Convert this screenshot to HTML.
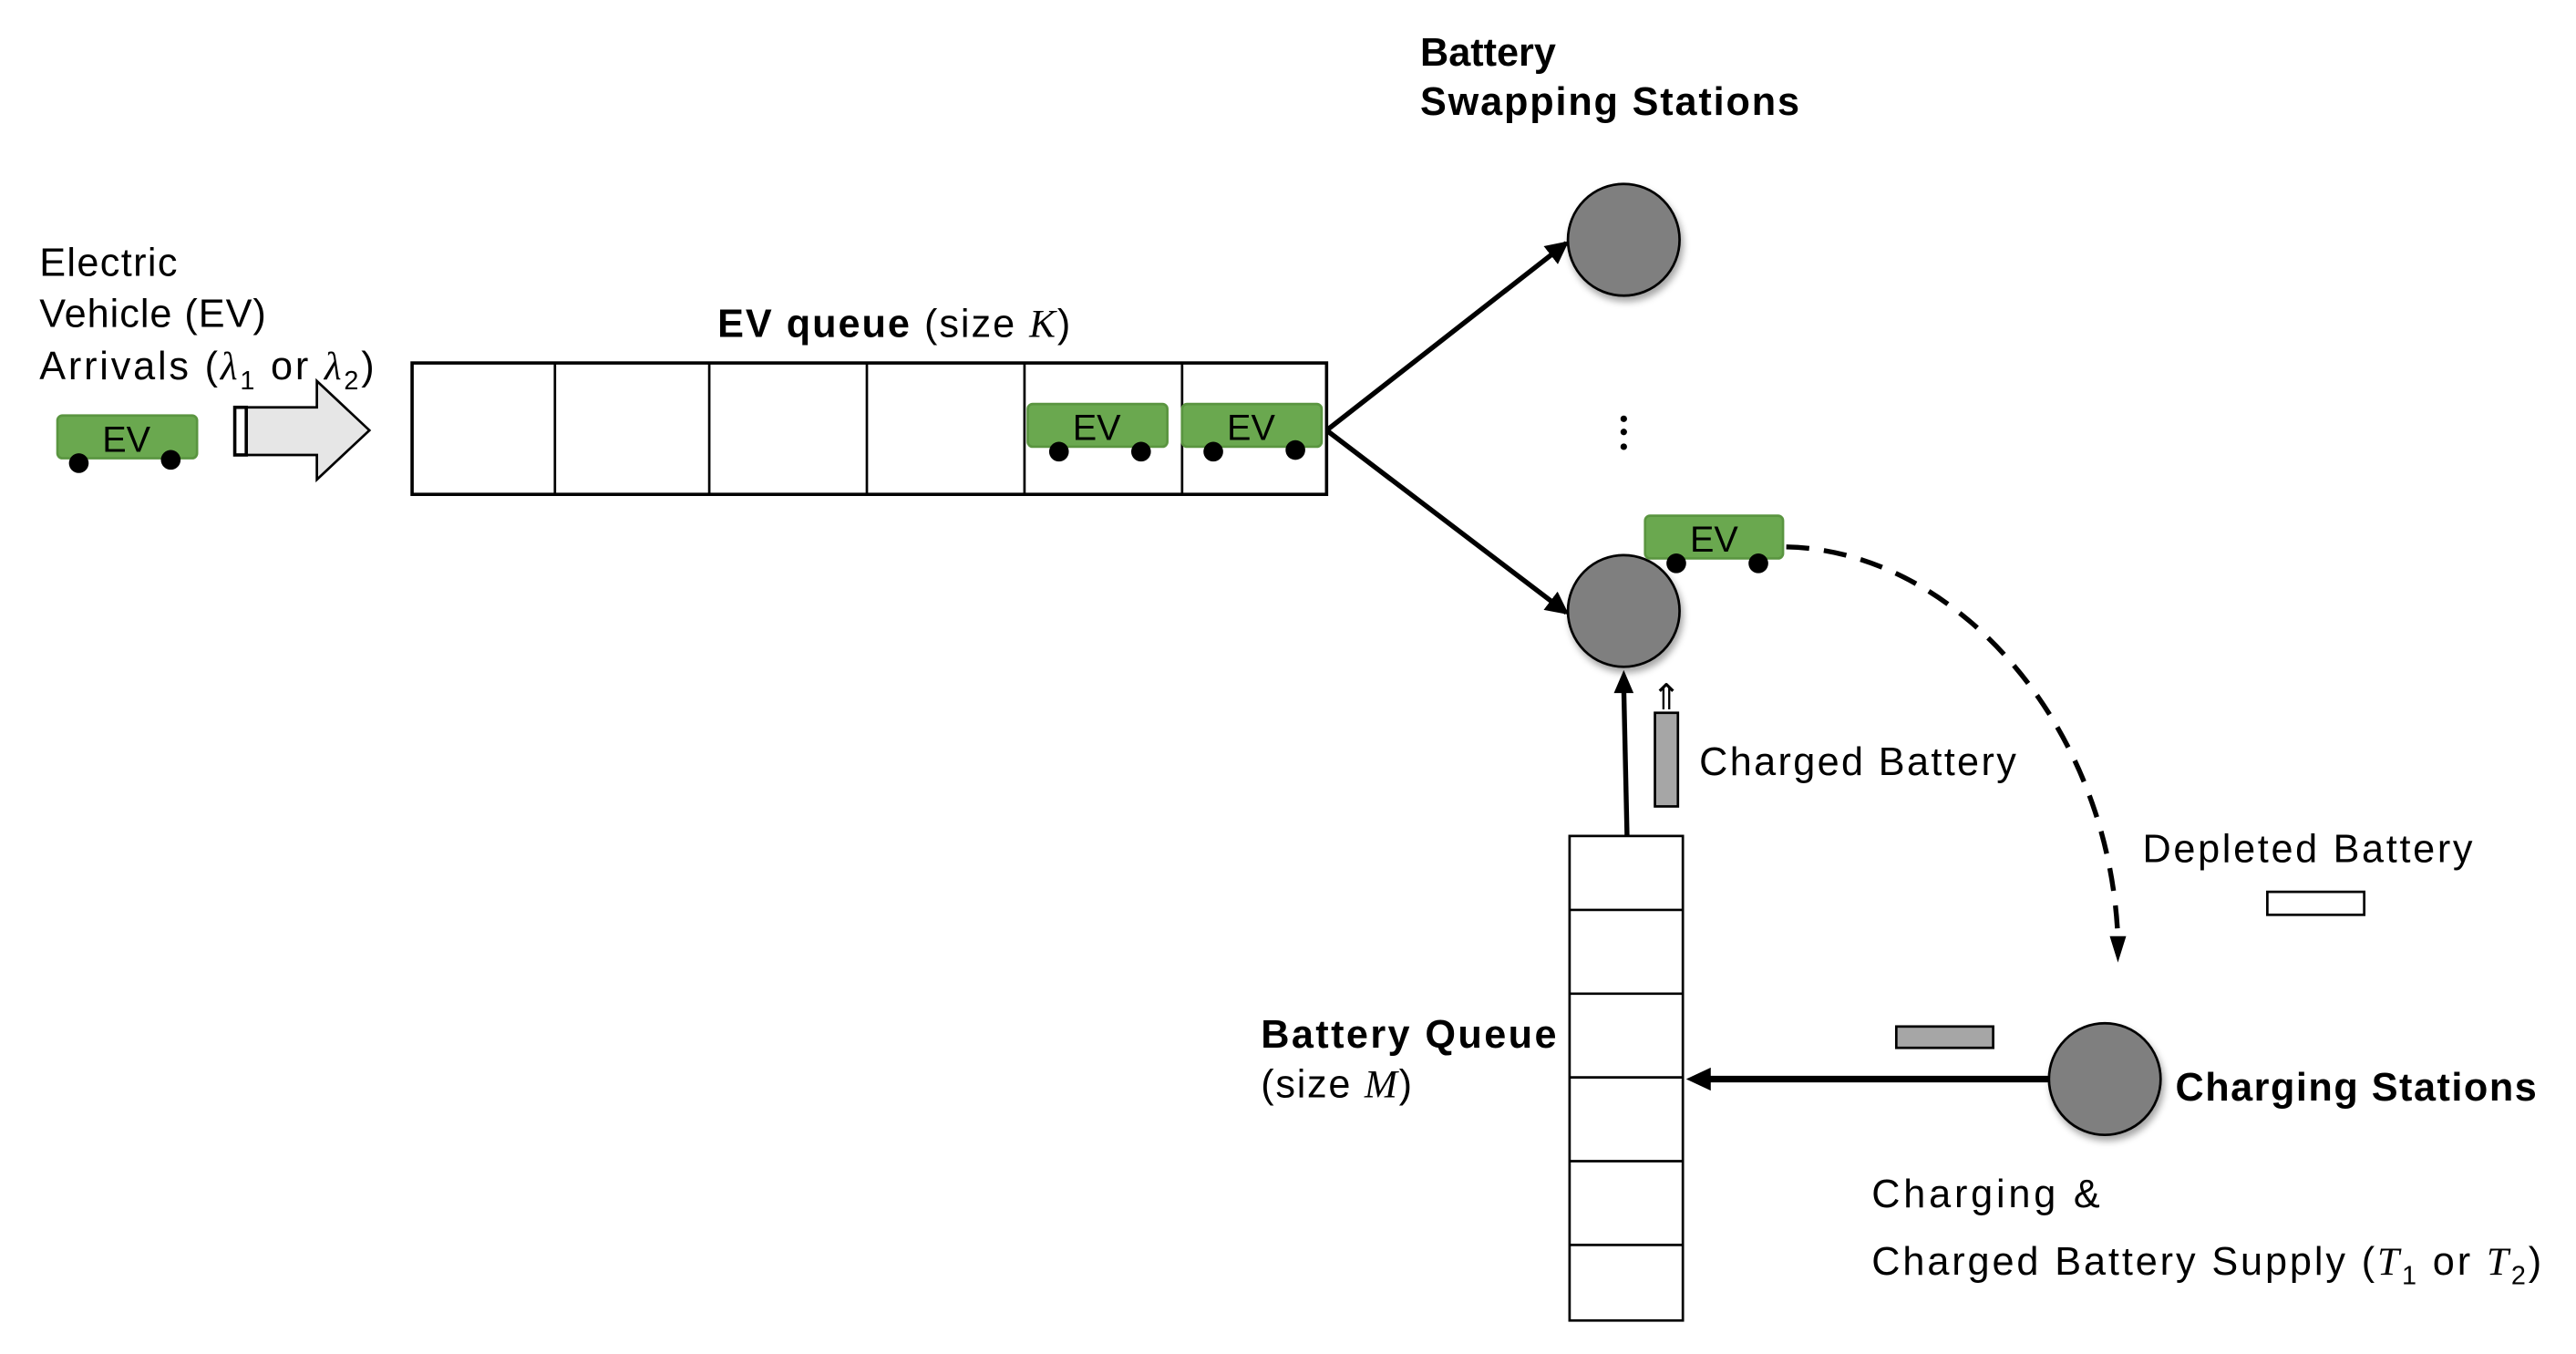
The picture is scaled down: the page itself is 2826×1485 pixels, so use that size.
<!DOCTYPE html>
<html><head><meta charset="utf-8"><style>html,body{margin:0;padding:0;background:#fff;}svg{display:block}</style></head>
<body>
<svg width="2826" height="1485" viewBox="0 0 1569 824.4" preserveAspectRatio="none" xmlns="http://www.w3.org/2000/svg" font-family="'Liberation Sans', sans-serif" font-size="24">
<defs>
<marker id="ah2" markerWidth="14" markerHeight="14" refX="12" refY="7" orient="auto" markerUnits="userSpaceOnUse" viewBox="0 0 14 14"><path d="M0,0 L14,7 L0,14 z" fill="#000"/></marker>
<filter id="sh" x="-30%" y="-30%" width="170%" height="170%"><feDropShadow dx="1.5" dy="3" stdDeviation="2" flood-color="#000" flood-opacity="0.35"/></filter>
</defs>
<rect width="1569" height="824.4" fill="#fff"/>

<text x="24" y="168" textLength="84">Electric</text>
<text x="24" y="199" textLength="138">Vehicle (EV)</text>
<text x="24" y="231" textLength="204" lengthAdjust="spacing">Arrivals (<tspan font-family="'Liberation Serif',serif" font-style="italic">λ</tspan><tspan font-size="16" dy="6">1</tspan><tspan dy="-6">  or  </tspan><tspan font-family="'Liberation Serif',serif" font-style="italic">λ</tspan><tspan font-size="16" dy="6">2</tspan><tspan dy="-6">)</tspan></text>

<rect x="35" y="253" width="85" height="26" rx="3" fill="#6aa84f" stroke="#5a9540" stroke-width="1.5"/>
<text x="77" y="275" text-anchor="middle" font-size="22">EV</text>
<circle cx="48" cy="282" r="6" fill="#000"/><circle cx="104" cy="280" r="6" fill="#000"/>

<path d="M143,248 L193,248 L193,232 L225,262 L193,292 L193,277 L143,277 z" fill="#e6e6e6" stroke="#000" stroke-width="1.5"/>
<rect x="143" y="248" width="7" height="29" fill="#fff" stroke="#000" stroke-width="2"/>

<text x="437" y="205" textLength="215" lengthAdjust="spacing"><tspan font-weight="bold">EV queue</tspan> (size <tspan font-family="'Liberation Serif',serif" font-style="italic">K</tspan>)</text>
<rect x="251" y="221" width="557" height="80" fill="#fff" stroke="#000" stroke-width="2"/>
<g stroke="#000" stroke-width="1.5">
<line x1="338" y1="221" x2="338" y2="301"/><line x1="432" y1="221" x2="432" y2="301"/>
<line x1="528" y1="221" x2="528" y2="301"/><line x1="624" y1="221" x2="624" y2="301"/>
<line x1="720" y1="221" x2="720" y2="301"/>
</g>
<rect x="626" y="246" width="85" height="26" rx="3" fill="#6aa84f" stroke="#5a9540" stroke-width="1.5"/>
<text x="668" y="268" text-anchor="middle" font-size="22">EV</text>
<circle cx="645" cy="275" r="6" fill="#000"/><circle cx="695" cy="275" r="6" fill="#000"/>
<rect x="720" y="246" width="85" height="26" rx="3" fill="#6aa84f" stroke="#5a9540" stroke-width="1.5"/>
<text x="762" y="268" text-anchor="middle" font-size="22">EV</text>
<circle cx="739" cy="275" r="6" fill="#000"/><circle cx="789" cy="274" r="6" fill="#000"/>

<line x1="808" y1="262" x2="954" y2="148" stroke="#000" stroke-width="3" marker-end="url(#ah2)"/>
<line x1="808" y1="262" x2="954" y2="373" stroke="#000" stroke-width="3" marker-end="url(#ah2)"/>

<text x="865" y="40" font-weight="bold">Battery</text>
<text x="865" y="70" font-weight="bold" textLength="231">Swapping Stations</text>
<circle cx="989" cy="146" r="34" fill="#7f7f7f" stroke="#000" stroke-width="1.5" filter="url(#sh)"/>
<circle cx="989" cy="255" r="2" fill="#000"/><circle cx="989" cy="263" r="2" fill="#000"/><circle cx="989" cy="272" r="2" fill="#000"/>
<circle cx="989" cy="372" r="34" fill="#7f7f7f" stroke="#000" stroke-width="1.5" filter="url(#sh)"/>

<rect x="1002" y="314" width="84" height="26" rx="3" fill="#6aa84f" stroke="#5a9540" stroke-width="1.5"/>
<text x="1044" y="336" text-anchor="middle" font-size="22">EV</text>
<circle cx="1021" cy="343" r="6" fill="#000"/><circle cx="1071" cy="343" r="6" fill="#000"/>

<path d="M1088,333 C1190,335 1285,440 1290,572" fill="none" stroke="#000" stroke-width="3" stroke-dasharray="14,9"/>
<path d="M1285,570 L1295,570 L1290,586 z" fill="#000"/>

<line x1="991" y1="509" x2="989" y2="418" stroke="#000" stroke-width="3"/>
<path d="M983,422 L989,408 L995,422 z" fill="#000"/>
<text x="1015" y="432" text-anchor="middle" font-size="22">⇑</text>
<rect x="1008" y="434" width="14" height="57" fill="#a6a6a6" stroke="#000" stroke-width="1.5"/>
<text x="1035" y="472" textLength="193">Charged Battery</text>

<text x="1305" y="525" textLength="201">Depleted Battery</text>
<rect x="1381" y="543" width="59" height="14" fill="#fff" stroke="#000" stroke-width="1.5"/>

<rect x="956" y="509" width="69" height="295" fill="#fff" stroke="#000" stroke-width="1.5"/>
<g stroke="#000" stroke-width="1.5">
<line x1="956" y1="554" x2="1025" y2="554"/><line x1="956" y1="605" x2="1025" y2="605"/>
<line x1="956" y1="656" x2="1025" y2="656"/><line x1="956" y1="707" x2="1025" y2="707"/>
<line x1="956" y1="758" x2="1025" y2="758"/>
</g>
<text x="768" y="638" font-weight="bold" textLength="180">Battery Queue</text>
<text x="768" y="668" textLength="92" lengthAdjust="spacing">(size <tspan font-family="'Liberation Serif',serif" font-style="italic">M</tspan>)</text>

<rect x="1155" y="625" width="59" height="13" fill="#a6a6a6" stroke="#000" stroke-width="1.5"/>
<line x1="1248" y1="657" x2="1040" y2="657" stroke="#000" stroke-width="4"/>
<path d="M1042,650 L1027,657 L1042,664 z" fill="#000"/>
<circle cx="1282" cy="657" r="34" fill="#7f7f7f" stroke="#000" stroke-width="1.5" filter="url(#sh)"/>
<text x="1325" y="670" font-weight="bold" textLength="220">Charging Stations</text>
<text x="1140" y="735" textLength="139">Charging &amp;</text>
<text x="1140" y="776" textLength="408" lengthAdjust="spacing">Charged Battery Supply (<tspan font-family="'Liberation Serif',serif" font-style="italic">T</tspan><tspan font-size="16" dy="6">1</tspan><tspan dy="-6">  or  </tspan><tspan font-family="'Liberation Serif',serif" font-style="italic">T</tspan><tspan font-size="16" dy="6">2</tspan><tspan dy="-6">)</tspan></text>
</svg>
</body></html>
